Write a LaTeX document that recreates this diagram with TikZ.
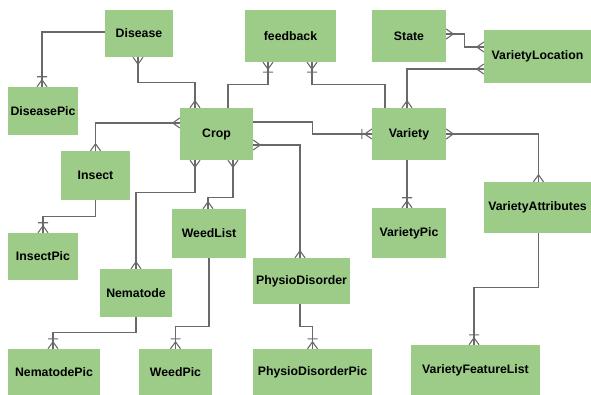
\documentclass[tikz,border=0pt]{standalone}
\usepackage{fontspec}
\setmainfont{Liberation Sans}
\usetikzlibrary{arrows.meta}
\definecolor{entfill}{RGB}{157,204,137}
\definecolor{linegray}{RGB}{105,105,105}
\pgfdeclarearrow{
  name = crow,
  setup code = {
    \pgfarrowssettipend{0pt}
    \pgfarrowssetlineend{0pt}
    \pgfarrowssetbackend{-7pt}
    \pgfarrowssetvisualbackend{-7pt}
    \pgfarrowsupperhullpoint{0pt}{5pt}
    \pgfarrowsupperhullpoint{-7pt}{0pt}
  },
  drawing code = {
    \pgfsetdash{}{0pt}
    \pgfpathmoveto{\pgfqpoint{-7pt}{0pt}}
    \pgfpathlineto{\pgfqpoint{0pt}{5pt}}
    \pgfpathmoveto{\pgfqpoint{-7pt}{0pt}}
    \pgfpathlineto{\pgfqpoint{0pt}{-5pt}}
    \pgfusepathqstroke
  }
}
\pgfdeclarearrow{
  name = onemany,
  setup code = {
    \pgfarrowssettipend{0pt}
    \pgfarrowssetlineend{0pt}
    \pgfarrowssetbackend{-10pt}
    \pgfarrowssetvisualbackend{-10pt}
    \pgfarrowsupperhullpoint{0pt}{5pt}
    \pgfarrowsupperhullpoint{-10pt}{5pt}
  },
  drawing code = {
    \pgfsetdash{}{0pt}
    \pgfpathmoveto{\pgfqpoint{-7pt}{0pt}}
    \pgfpathlineto{\pgfqpoint{0pt}{5pt}}
    \pgfpathmoveto{\pgfqpoint{-7pt}{0pt}}
    \pgfpathlineto{\pgfqpoint{0pt}{-5pt}}
    \pgfpathmoveto{\pgfqpoint{-10pt}{5pt}}
    \pgfpathlineto{\pgfqpoint{-10pt}{-5pt}}
    \pgfusepathqstroke
  }
}
\begin{document}
\begin{tikzpicture}[x=1pt,y=-1pt,
  ent/.style={fill=entfill, draw=none, inner sep=0pt, align=center,
    font=\fontsize{12.3}{14}\selectfont\bfseries},
  link/.style={draw=linegray, line width=1.1pt},
  crows/.style={link, crow-crow},
  tomany/.style={link, -onemany},
  frommany/.style={link, onemany-}]
\useasboundingbox (0,0) rectangle (591,395);

\node[ent, minimum width=68pt, minimum height=47pt] (disease) at (139,33.5) {Disease};
\node[ent, minimum width=70pt, minimum height=48pt] (diseasepic) at (43,111) {DiseasePic};
\node[ent, minimum width=91pt, minimum height=52pt] (feedback) at (290.5,36) {feedback};
\node[ent, minimum width=74pt, minimum height=52pt] (state) at (409,36) {State};
\node[ent, minimum width=107pt, minimum height=53pt] (varloc) at (537.5,56.5) {VarietyLocation};
\node[ent, minimum width=73pt, minimum height=52pt] (crop) at (216.5,134) {Crop};
\node[ent, minimum width=74pt, minimum height=52pt] (variety) at (409,134) {Variety};
\node[ent, minimum width=69pt, minimum height=49pt] (insect) at (95.5,175.5) {Insect};
\node[ent, minimum width=70pt, minimum height=47pt] (insectpic) at (43,256.5) {InsectPic};
\node[ent, minimum width=74pt, minimum height=49pt] (weedlist) at (209,233.5) {WeedList};
\node[ent, minimum width=72pt, minimum height=48pt] (nematode) at (136,293) {Nematode};
\node[ent, minimum width=92pt, minimum height=46pt] (nematodepic) at (54,372) {NematodePic};
\node[ent, minimum width=73pt, minimum height=46pt] (weedpic) at (175.5,372) {WeedPic};
\node[ent, minimum width=97pt, minimum height=46pt] (physio) at (301.5,281) {PhysioDisorder};
\node[ent, minimum width=119pt, minimum height=46pt] (physiopic) at (312.5,372) {PhysioDisorderPic};
\node[ent, minimum width=74pt, minimum height=50pt] (varpic) at (409,233) {VarietyPic};
\node[ent, minimum width=107pt, minimum height=51pt] (varattr) at (537.5,207.5) {VarietyAttributes};
\node[ent, minimum width=129pt, minimum height=50pt] (varfeat) at (475.5,370) {VarietyFeatureList};

% connectors
\draw[tomany] ([yshift=1.5pt]disease.west) -| ([xshift=-1pt]diseasepic.north);
\draw[crows] ([xshift=-1pt]disease.south) -- ++(0,25) -| ([xshift=-21.5pt]crop.north);
\draw[frommany] ([xshift=-22.5pt]feedback.south) -- ++(0,22) -| ([xshift=11.5pt]crop.north);
\draw[frommany] ([xshift=21.5pt]feedback.south) -- ++(0,22) -| ([xshift=-24pt]variety.north);
\draw[crows] ([yshift=2pt]state.east) -- ++(18,0) |- ([yshift=9.5pt]varloc.west);
\draw[crows] ([yshift=-12.5pt]varloc.west) -| ([xshift=-2pt]variety.north);
\draw[tomany] ([yshift=12pt]crop.east) -- ++(59,0) |- (variety.west);
\draw[crows] ([yshift=11pt]crop.west) -| (insect.north);
\draw[tomany] (insect.south) -- ++(0,16) -| (insectpic.north);
\draw[crows] ([xshift=-21.5pt]crop.south) -- ++(0,32) -| (nematode.north);
\draw[crows] ([xshift=16.5pt]crop.south) -- ++(0,37) -| ([xshift=-1pt]weedlist.north);
\draw[crows] ([yshift=-11pt]crop.east) -| ([xshift=-1.5pt]physio.north);
\draw[tomany] (nematode.south) -- ++(0,15) -| ([xshift=-1pt]nematodepic.north);
\draw[tomany] (weedlist.south) -- ++(0,68) -| (weedpic.north);
\draw[tomany] ([xshift=-1.5pt]physio.south) -- ++(0,22) -| (physiopic.north);
\draw[tomany] ([xshift=-2pt]variety.south) -- ([xshift=-2pt]varpic.north);
\draw[crows] (variety.east) -| ([xshift=1pt]varattr.north);
\draw[tomany] ([xshift=1pt]varattr.south) -- ++(0,54) -| ([xshift=-1.5pt]varfeat.north);
\end{tikzpicture}
\end{document}
